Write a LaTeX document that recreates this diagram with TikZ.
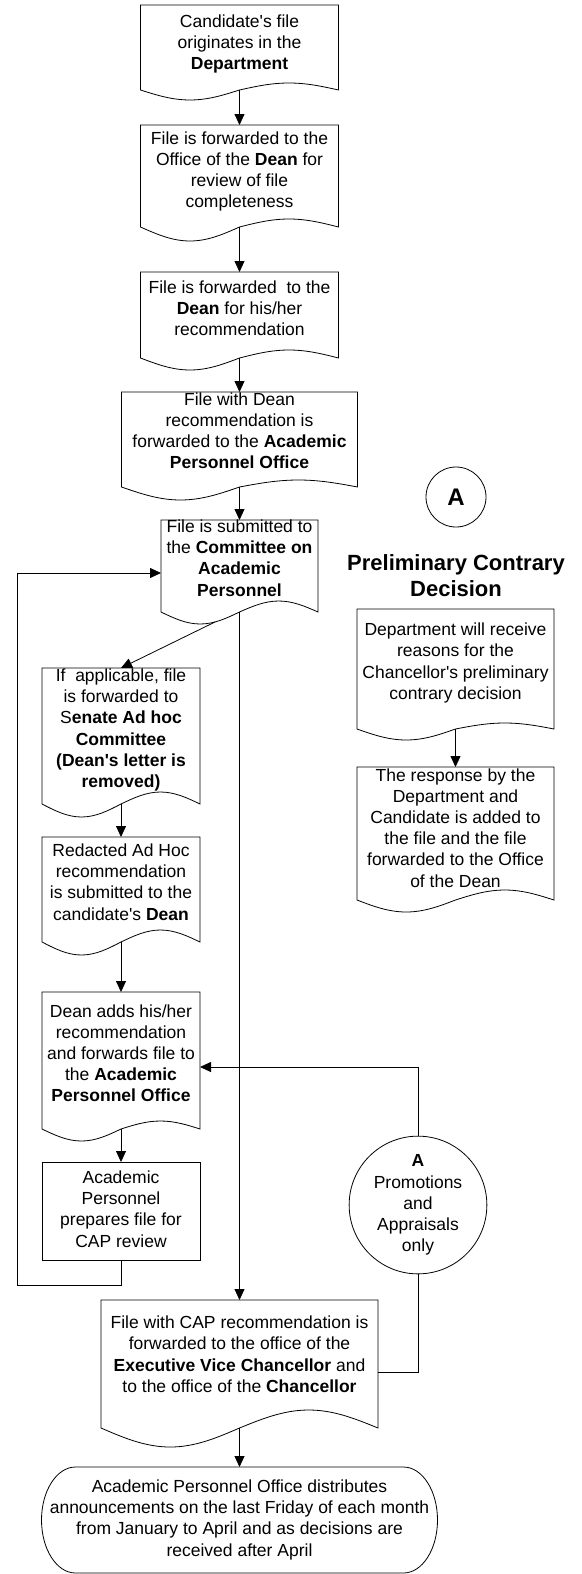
\documentclass[tikz,border=0pt]{standalone}
\usepackage{fontspec}
\setmainfont{Liberation Sans}
\usetikzlibrary{arrows.meta,calc}
\newcommand{\aq}{\textquotesingle}
\newcommand{\boxtext}[2]{\raisebox{#1pt}[\height][\depth]{\begin{tabular}{@{}c@{}}#2\end{tabular}}}
\newcommand{\docoutline}[3]{\draw[ln] (#1.south west) -- (#1.north west) -- (#1.north east) -- (#1.south east)
  sin ($(#1.south west)!0.75!(#1.south east)+(0,#3)$) cos (#1.south)
  sin ($(#1.south west)!0.25!(#1.south east)+(0,-#2)$) cos (#1.south west) -- cycle;}
\begin{document}
\begin{tikzpicture}[x=1pt,y=1pt,
  ln/.style={line width=0.8pt,draw=black},
  arr/.style={ln,-{Triangle[length=11pt,width=10pt]}},
  shapebox/.style={inner sep=0pt,outer sep=0pt,font=\fontsize{17.5}{21.2}\selectfont},
]
\useasboundingbox (0,0) rectangle (581,-1574);

% main column
\node[shapebox,minimum width=198pt,minimum height=85pt] (b1) at (239.5,-47.5)
  {\boxtext{3.2}{Candidate\aq s file\\originates in the\\\textbf{Department}}};
\node[shapebox,minimum width=198pt,minimum height=102pt] (b2) at (239.5,-176)
  {\boxtext{4.2}{File is forwarded to the\\Office of the \textbf{Dean} for\\review of file\\completeness}};
\node[shapebox,minimum width=198pt,minimum height=86pt] (b3) at (239.5,-315)
  {\boxtext{4.7}{File is forwarded\ \ to the\\\textbf{Dean} for his/her\\recommendation}};
\node[shapebox,minimum width=236pt,minimum height=95pt] (b4) at (239.5,-439.5)
  {\boxtext{6.7}{File with Dean\\recommendation is\\forwarded to the \textbf{Academic}\\\textbf{Personnel Office}}};
\node[shapebox,minimum width=157pt,minimum height=92pt] (b5) at (239.5,-566)
  {\boxtext{6}{File is submitted to\\the \textbf{Committee on}\\\textbf{Academic}\\\textbf{Personnel}}};

% left column
\node[shapebox,minimum width=158pt,minimum height=136pt] (b6) at (121,-736)
  {\boxtext{5.7}{If\ \ applicable, file\\is forwarded to\\S\textbf{enate Ad hoc}\\\textbf{Committee}\\\textbf{(Dean\aq s letter is}\\\textbf{removed)}}};
\node[shapebox,minimum width=158pt,minimum height=105pt] (b7) at (121,-889.5)
  {\boxtext{5.5}{Redacted Ad Hoc\\recommendation\\is submitted to the\\candidate\aq s \textbf{Dean}}};
\node[shapebox,minimum width=158pt,minimum height=137pt] (b8) at (121,-1060.5)
  {\boxtext{5.2}{Dean adds his/her\\recommendation\\and forwards file to\\the \textbf{Academic}\\\textbf{Personnel Office}}};
\node[shapebox,draw,line width=0.8pt,minimum width=158pt,minimum height=98pt] (b9) at (121,-1211)
  {\boxtext{0}{Academic\\Personnel\\prepares file for\\CAP review}};

% right column
\node[circle,draw,line width=0.8pt,inner sep=0pt,minimum size=60pt,font=\fontsize{24}{28}\selectfont\bfseries] (ca) at (456,-497) {A};
\node[inner sep=0pt,font=\fontsize{22}{26}\selectfont\bfseries] (hd) at (456,-578)
  {\boxtext{0}{Preliminary Contrary\\Decision}};
\node[shapebox,minimum width=197pt,minimum height=120pt] (r1) at (455.5,-669)
  {\boxtext{5.7}{Department will receive\\reasons for the\\Chancellor\aq s preliminary\\contrary decision}};
\node[shapebox,minimum width=197pt,minimum height=133pt] (r2) at (455.5,-833.5)
  {\boxtext{3.7}{The response by the\\Department and\\Candidate is added to\\the file and the file\\forwarded to the Office\\of the Dean}};

\node[shapebox,circle,draw,line width=0.8pt,minimum size=108pt] (c2) at (418,-1205)
  {\boxtext{0}{\textbf{A}\\Promotions\\and\\Appraisals\\only}};

\node[shapebox,minimum width=277pt,minimum height=128pt] (b11) at (239.5,-1364)
  {\boxtext{7.7}{File with CAP recommendation is\\forwarded to the office of the\\\textbf{Executive Vice Chancellor} and\\to the office of the \textbf{Chancellor}}};
\node[shapebox,minimum width=396pt,minimum height=106pt] (b12) at (239.5,-1520)
  {\boxtext{0}{Academic Personnel Office distributes\\announcements on the last Friday of each month\\from January to April and as decisions are\\received after April}};

% outlines
\docoutline{b1}{10}{7}
\docoutline{b2}{14}{8}
\docoutline{b3}{12}{8}
\docoutline{b4}{13}{7}
\docoutline{b5}{12}{11}
\docoutline{b6}{13}{12}
\docoutline{b7}{13}{12}
\docoutline{b8}{12}{8}
\docoutline{r1}{11}{6}
\docoutline{r2}{12}{10}
\docoutline{b11}{19}{18}
\draw[ln] ([xshift=34pt]b12.north west) -- ([xshift=-34pt]b12.north east)
  arc[start angle=90,end angle=-90,x radius=34pt,y radius=53pt]
  -- ([xshift=34pt]b12.south west)
  arc[start angle=270,end angle=90,x radius=34pt,y radius=53pt] -- cycle;

% connectors
\draw[arr] (b1.south) -- (b2.north);
\draw[arr] (b2.south) -- (b3.north);
\draw[arr] (b3.south) -- (b4.north);
\draw[arr] (b4.south) -- (b5.north);
\coordinate (d5) at ($(b5.south)+(-24.5,-10)$);
\draw[arr] (d5) -- (b6.north);
\draw[arr] (b5.south) -- (b11.north);
\draw[arr] (b6.south) -- (b7.north);
\draw[arr] (b7.south) -- (b8.north);
\draw[arr] (b8.south) -- (b9.north);
\coordinate (lp) at (17,-1285);
\draw[arr] (b9.south) |- (lp) |- ([yshift=-7pt]b5.west);
\draw[arr] (c2.north) |- ([yshift=-6.5pt]b8.east);
\draw[ln] (c2.south) |- ([yshift=-8pt]b11.east);
\draw[arr] (b11.south) -- (b12.north);
\draw[arr] (r1.south) -- (r2.north);
\end{tikzpicture}
\end{document}
